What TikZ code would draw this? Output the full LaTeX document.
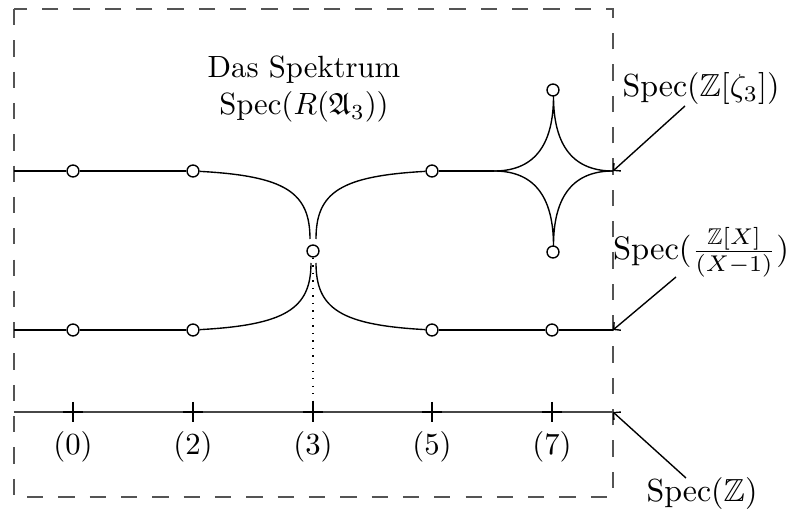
\documentclass[tikz,border=0pt]{standalone}
\usepackage{amsmath,amssymb}
\usetikzlibrary{arrows.meta}
\begin{document}
\begin{tikzpicture}[x=0.3257pt,y=-0.3257pt,
  pt/.style={circle,draw,fill=white,inner sep=0pt,minimum size=3.9pt,line width=0.45pt},
  curve/.style={line width=0.45pt},
  frame/.style={draw=black!67,line width=0.75pt,dash pattern=on 5.3pt off 4.9pt},
  axis/.style={draw=black!72,line width=0.65pt},
  tick/.style={line width=0.6pt},
  lead/.style={line width=0.45pt,-{Straight Barb[length=1.6pt,width=3.4pt]}},
  lbl/.style={inner sep=0pt}]
\useasboundingbox (0,0) rectangle (789,509);
\draw[frame] (14,9) rectangle (613,497);
% points
\node[pt] (a0) at (73,171) {};
\node[pt] (a2) at (193,171) {};
\node[pt] (a5) at (432,171) {};
\node[pt] (s7t) at (553,90) {};
\node[pt] (s7b) at (553,252) {};
\node[pt] (c3) at (313,251) {};
\node[pt] (b0) at (73,330) {};
\node[pt] (b2) at (193,330) {};
\node[pt] (b5) at (432,330) {};
\node[pt] (b7) at (552,330) {};
\coordinate (uL) at (14,171);
\coordinate (sL) at (494,171);
\coordinate (uR) at (613,171);
\coordinate (lL) at (14,330);
\coordinate (lR) at (613,330);
\coordinate (xL) at (14,412);
\coordinate (xR) at (613,412);
\coordinate (t3) at (313,412);
% upper branch
\draw[curve] (uL) -- (a0) -- (a2);
\draw[curve] (a2) .. controls (285,176) and (310,192) .. (310,239);
\draw[curve] (316,239) .. controls (316,192) and (341,176) .. (a5);
\draw[curve] (a5) -- (sL);
\draw[curve] plot[domain=0:180,samples=181]
  ({553.5+59.5*cos(\x)*cos(\x)*cos(\x)*abs(cos(\x))},{171-75*sin(\x)*sin(\x)*sin(\x)*abs(sin(\x))});
\draw[curve] plot[domain=180:360,samples=181]
  ({553.5+59.5*cos(\x)*cos(\x)*cos(\x)*abs(cos(\x))},{171-75*sin(\x)*sin(\x)*sin(\x)*abs(sin(\x))});
% lower branch
\draw[curve] (lL) -- (b0) -- (b2);
\draw[curve] (b2) .. controls (285,325) and (311,309) .. (311,263);
\draw[curve] (316,263) .. controls (316,309) and (341,325) .. (b5);
\draw[curve] (b5) -- (b7) -- (lR);
% dotted fibre
\draw[dotted,line width=0.45pt] (c3) -- (t3);
% axis
\draw[axis] (xL) -- (xR);
\foreach \n/\xx in {0/73,2/193,3/313,5/432,7/552}{
  \draw[tick] (\xx,402) -- (\xx,422);
  \draw[tick] (\xx-10,412) -- (\xx+10,412);
  \node[lbl] (l\n) at (\xx,447) {$(\n)$};
}
% texts
\node[align=center,inner sep=0pt] (title) at (304,89) {Das Spektrum\\$\operatorname{Spec}(R(\mathfrak{A}_3))$};
\node[lbl] (lz3) at (701,89) {\scalebox{1.04}{$\operatorname{Spec}(\mathbb{Z}[\zeta_3])$}};
\node[lbl] (lzx) at (701,252) {\scalebox{1.06}{$\operatorname{Spec}(\frac{\mathbb{Z}[X]}{(X-1)})$}};
\node[lbl] (lz) at (702,494) {\scalebox{1.04}{$\operatorname{Spec}(\mathbb{Z})$}};
\coordinate (p1) at (685,106);
\coordinate (p2) at (676,277);
\coordinate (p3) at (686,478);
\draw[lead] (p1) -- (uR);
\draw[lead] (p2) -- (lR);
\draw[lead] (p3) -- (xR);
\end{tikzpicture}
\end{document}
